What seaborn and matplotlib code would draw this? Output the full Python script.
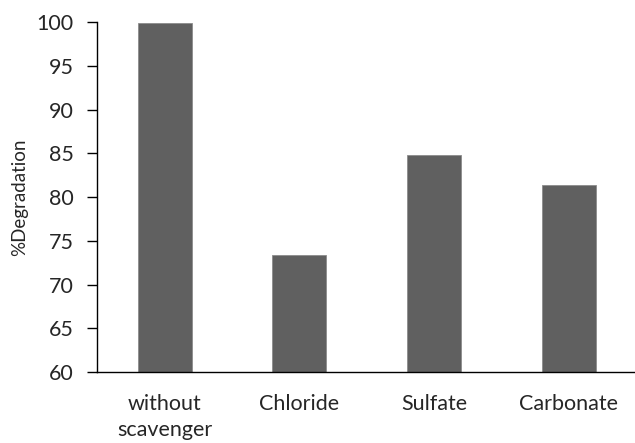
import pandas as pd
import numpy as np
import matplotlib
matplotlib.use('Agg')
import matplotlib.pyplot as plt
import seaborn as sns

# Data
categories = ['without\nscavenger', 'Chloride', 'Sulfate', 'Carbonate']
degradation = [99.9, 73.4, 84.8, 81.4]

df = pd.DataFrame({'Scavenger': categories, 'Degradation': degradation})

sns.set_style('white')
plt.rcParams['font.family'] = ['Lato', 'DejaVu Sans']

fig = plt.figure(figsize=(6.35, 4.43), dpi=100)
ax = fig.add_axes([0.153, 0.160, 0.849, 0.790])

sns.barplot(data=df, x='Scavenger', y='Degradation', color='#606060',
            saturation=1, width=0.4, edgecolor='#8c8c8c', linewidth=0.6, ax=ax)

ax.set_ylim(60, 100)
ax.set_yticks(np.arange(60, 101, 5))
ax.set_xlabel('')
ax.set_ylabel('%Degradation', fontsize=13.5, labelpad=6)

ax.tick_params(axis='y', direction='out', length=7, width=1, color='black',
               left=True, labelsize=15.5, pad=10)
ax.tick_params(axis='x', length=0, labelsize=15.5, pad=16)
for lbl in ax.get_xticklabels():
    lbl.set_linespacing(1.35)

for side in ['top', 'right']:
    ax.spines[side].set_visible(False)
for side in ['left', 'bottom']:
    ax.spines[side].set_color('black')
    ax.spines[side].set_linewidth(1)

fig.savefig('out.png', dpi=100)
